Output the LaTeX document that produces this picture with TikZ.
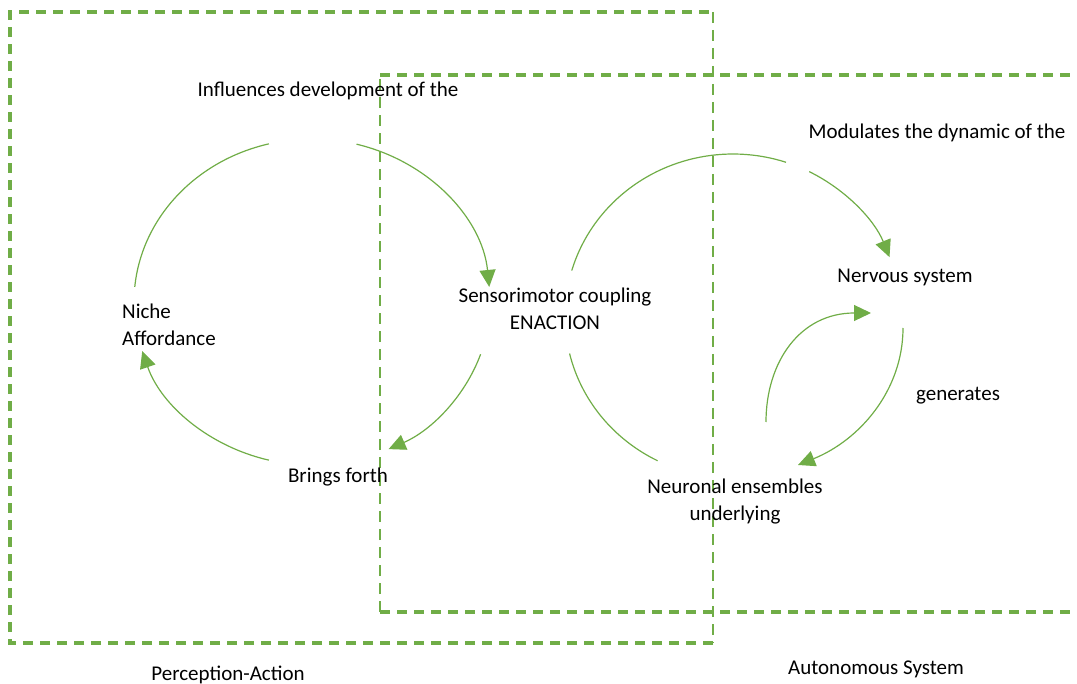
\documentclass[tikz,border=0pt]{standalone}
\usepackage{fontspec}
\setmainfont{Carlito}
\usetikzlibrary{arrows.meta,calc}
\definecolor{grn}{HTML}{70AD47}
\tikzset{
  frame/.style={draw=grn, line width=3.2pt, dash pattern=on 10pt off 7pt},
  framethin/.style={draw=grn, line width=2pt, dash pattern=on 11pt off 7pt},
  loop/.style={draw=grn, line width=1.2pt},
  looparrow/.style={loop, -{Triangle[length=17pt,width=16pt]}},
  lbl/.style={font=\fontsize{21}{27}\selectfont, inner sep=0pt, anchor=base, align=center},
}
\begin{document}
\begin{tikzpicture}[x=1pt,y=-1pt]
\useasboundingbox (0,0) rectangle (1077,684);
% frames
\draw[frame] (713,643) -- (10,643) -- (10,12) -- (713,12);
\draw[framethin] (713,12) -- (713,643);
\draw[framethin] (380,612) -- (380,75);
\draw[frame] (380,612) -- (1077,612);
\draw[frame] (380,75) -- (1077,75);
% left cycle
\coordinate (L) at (312,302);
\draw[loop] ($(L)+(-174.7:178 and 163)$) arc[start angle=-174.7, end angle=-104, x radius=178, y radius=163];
\draw[looparrow] ($(L)+(-75.5:178 and 163)$) arc[start angle=-75.5, end angle=-5.3, x radius=178, y radius=163];
\draw[looparrow] ($(L)+(18.7:178 and 163)$) arc[start angle=18.7, end angle=64.5, x radius=178, y radius=163];
\draw[looparrow] ($(L)+(104:178 and 163)$) arc[start angle=104, end angle=162.5, x radius=178, y radius=163];
% right cycle
\coordinate (R) at (733,316);
\draw[loop] ($(R)+(-163.7:168 and 162)$) arc[start angle=-163.7, end angle=-71.6, x radius=168, y radius=162];
\draw[looparrow] ($(R)+(-63:168 and 162)$) arc[start angle=-63, end angle=-21.3, x radius=168, y radius=162];
\draw[loop] ($(R)+(166.6:168 and 162)$) arc[start angle=166.6, end angle=116.7, x radius=168, y radius=162];
% small loop
\coordinate (a1) at (766,422);
\coordinate (a2) at (871,313);
\coordinate (b1) at (903,328);
\coordinate (b2) at (798,465);
\draw[looparrow] (a1) .. controls (766,362) and (800,313) .. (a2);
\draw[looparrow] (b1) .. controls (903,390) and (860,440) .. (b2);
% labels
\node[lbl] (infl) at (328,97) {Influences development of the};
\node[lbl] (mod) at (937,139) {Modulates the dynamic of the};
\node[lbl, anchor=base west, align=left] (niche) at (122,346) {Niche\\Affordance};
\node[lbl] (senso) at (555,330) {Sensorimotor coupling\\ENACTION};
\node[lbl] (brings) at (338,483) {Brings forth};
\node[lbl] (nerv) at (905,283) {Nervous system};
\node[lbl] (gen) at (958,401) {generates};
\node[lbl] (neur) at (735,521) {Neuronal ensembles\\underlying};
\node[lbl] (pa) at (228,680) {Perception-Action};
\node[lbl] (as) at (876,674) {Autonomous System};
\end{tikzpicture}
\end{document}
